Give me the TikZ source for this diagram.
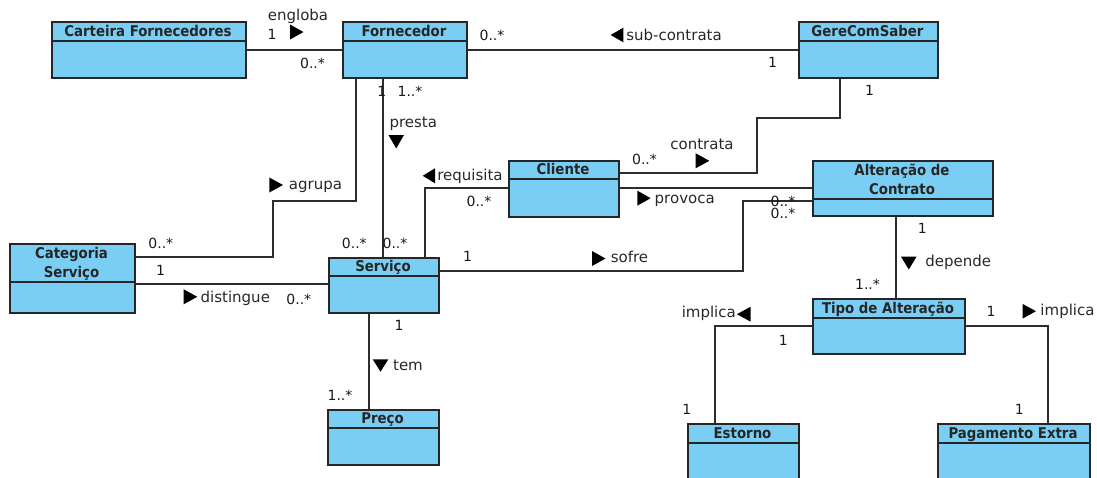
\documentclass[tikz,border=0pt]{standalone}
\usepackage{fontspec}
\setmainfont{DejaVu Sans}
\newfontfamily\titlefont{DejaVu Sans Condensed}
\definecolor{clsfill}{RGB}{122,206,244}
\definecolor{linec}{RGB}{45,45,45}
\definecolor{txtc}{RGB}{40,40,40}
\begin{document}
\begin{tikzpicture}[x=1pt,y=-1pt,
  cls/.style={draw=black!85, line width=1.6pt, fill=clsfill, inner sep=0pt, anchor=north west},
  div/.style={draw=black!85, line width=1.3pt},
  ttl/.style={font=\titlefont\bfseries\fontsize{14.8}{19.3}\selectfont, inner sep=0pt, align=center, text=black!85},
  assoc/.style={draw=linec, line width=1.5pt},
  role/.style={font=\fontsize{15}{18}\selectfont, inner sep=0pt, anchor=base, text=txtc},
  mult/.style={font=\fontsize{14}{17}\selectfont, inner sep=0pt, anchor=base, text=black!90},
  tri/.style={fill=black}
]
\useasboundingbox (0,0) rectangle (1097,477);
\clip (0,0) rectangle (1097,477);

% classes
\node[cls, minimum width=194pt, minimum height=56pt] (cart) at (51,21) {};
\draw[div] (cart.west |- 0,41) -- (cart.east |- 0,41);
\node[ttl, anchor=base] (cart-t) at (148,36) {Carteira Fornecedores};

\node[cls, minimum width=124pt, minimum height=56pt] (forn) at (342,21) {};
\draw[div] (forn.west |- 0,41) -- (forn.east |- 0,41);
\node[ttl, anchor=base] (forn-t) at (404,36) {Fornecedor};

\node[cls, minimum width=139pt, minimum height=56pt] (gere) at (798,21) {};
\draw[div] (gere.west |- 0,41) -- (gere.east |- 0,41);
\node[ttl, anchor=base] (gere-t) at (867.5,36) {GereComSaber};

\node[cls, minimum width=125pt, minimum height=69pt] (cat) at (9,243) {};
\draw[div] (cat.west |- 0,282) -- (cat.east |- 0,282);
\node[ttl, anchor=center] (cat-t) at (71.5,263.7) {Categoria\\Serviço};

\node[cls, minimum width=110pt, minimum height=55pt] (serv) at (328,257) {};
\draw[div] (serv.west |- 0,276) -- (serv.east |- 0,276);
\node[ttl, anchor=base] (serv-t) at (383,271.5) {Serviço};

\node[cls, minimum width=110pt, minimum height=56pt] (cli) at (508,160) {};
\draw[div] (cli.west |- 0,179) -- (cli.east |- 0,179);
\node[ttl, anchor=base] (cli-t) at (563,174.5) {Cliente};

\node[cls, minimum width=180pt, minimum height=55pt] (alt) at (812,160) {};
\draw[div] (alt.west |- 0,199) -- (alt.east |- 0,199);
\node[ttl, anchor=center] (alt-t) at (902,179) {Alteração de\\Contrato};

\node[cls, minimum width=152pt, minimum height=55pt] (tipo) at (812,298) {};
\draw[div] (tipo.west |- 0,318) -- (tipo.east |- 0,318);
\node[ttl, anchor=base] (tipo-t) at (888,313) {Tipo de Alteração};

\node[cls, minimum width=111pt, minimum height=55pt] (preco) at (327,409) {};
\draw[div] (preco.west |- 0,428) -- (preco.east |- 0,428);
\node[ttl, anchor=base] (preco-t) at (382.5,423.5) {Preço};

\node[cls, minimum width=111pt, minimum height=67pt] (est) at (687,423) {};
\draw[div] (est.west |- 0,443) -- (est.east |- 0,443);
\node[ttl, anchor=base] (est-t) at (742.5,438) {Estorno};

\node[cls, minimum width=152pt, minimum height=67pt] (pag) at (937,423) {};
\draw[div] (pag.west |- 0,443) -- (pag.east |- 0,443);
\node[ttl, anchor=base] (pag-t) at (1013,438) {Pagamento Extra};

% associations
\draw[assoc] (cart.east) -- (forn.west);
\draw[assoc] (forn.east) -- (gere.west);
\draw[assoc] (forn.south -| 356,0) |- (273,201) |- (cat.east |- 0,257);
\draw[assoc] (forn.south -| 383,0) -- (serv.north -| 383,0);
\draw[assoc] (serv.north -| 425,0) |- (cli.west |- 0,188);
\draw[assoc] (gere.south -| 840,0) |- (757,118) |- (cli.east |- 0,173);
\draw[assoc] (cli.east |- 0,188) -- (alt.west |- 0,188);
\draw[assoc] (serv.east |- 0,271) -| (743,201) -- (alt.west |- 0,201);
\draw[assoc] (cat.east |- 0,284) -- (serv.west |- 0,284);
\draw[assoc] (serv.south -| 369,0) -- (preco.north -| 369,0);
\draw[assoc] (alt.south -| 896,0) -- (tipo.north -| 896,0);
\draw[assoc] (tipo.west |- 0,326) -| (est.north -| 715,0);
\draw[assoc] (tipo.east |- 0,326) -| (pag.north -| 1048,0);

% direction triangles
\fill[tri] (290,24.5) -- (290,39.5) -- (303.5,32) -- cycle;
\fill[tri] (623.3,27.7) -- (623.3,42.3) -- (610.7,35) -- cycle;
\fill[tri] (388.5,135) -- (404,135) -- (396.2,148.5) -- cycle;
\fill[tri] (269.3,177.5) -- (269.3,192.5) -- (283,185) -- cycle;
\fill[tri] (183.7,289.3) -- (183.7,304.3) -- (197.3,296.8) -- cycle;
\fill[tri] (435,168.3) -- (435,183.3) -- (422.7,175.8) -- cycle;
\fill[tri] (695.7,153.3) -- (695.7,168.3) -- (709.3,160.8) -- cycle;
\fill[tri] (637.3,190.7) -- (637.3,205.7) -- (650.7,198.2) -- cycle;
\fill[tri] (592,251) -- (592,266) -- (605.5,258.5) -- cycle;
\fill[tri] (901,256.7) -- (916.5,256.7) -- (908.8,269.5) -- cycle;
\fill[tri] (750.7,306.7) -- (750.7,321.7) -- (736.9,314.2) -- cycle;
\fill[tri] (1022.7,304) -- (1022.7,318.5) -- (1036,311.2) -- cycle;
\fill[tri] (372.7,359.3) -- (388.3,359.3) -- (380.5,371.7) -- cycle;

% role names
\node[role] (l-engloba) at (298,20.5) {engloba};
\node[role] (l-sub) at (674,40.5) {sub-contrata};
\node[role] (l-presta) at (413.3,127) {presta};
\node[role] (l-agrupa) at (315.5,189.3) {agrupa};
\node[role] (l-dist) at (235.3,302.7) {distingue};
\node[role] (l-req) at (470,180) {requisita};
\node[role] (l-contrata) at (702,149.3) {contrata};
\node[role] (l-provoca) at (684.7,203.3) {provoca};
\node[role] (l-sofre) at (629.5,262.7) {sofre};
\node[role] (l-depende) at (958.3,266.7) {depende};
\node[role] (l-implL) at (708.8,317.7) {implica};
\node[role] (l-implR) at (1067.5,315) {implica};
\node[role] (l-tem) at (408,370) {tem};

% multiplicities
\node[mult] (m1) at (272,39.3) {1};
\node[mult] (m2) at (312.5,68.3) {0..*};
\node[mult] (m3) at (492,40) {0..*};
\node[mult] (m4) at (772.5,67.3) {1};
\node[mult] (m5) at (869.5,95.7) {1};
\node[mult] (m6) at (381.7,96) {1};
\node[mult] (m7) at (410,96) {1..*};
\node[mult] (m8) at (160.8,248.3) {0..*};
\node[mult] (m9) at (160.5,275.7) {1};
\node[mult] (m10) at (298.8,304) {0..*};
\node[mult] (m11) at (354.3,248.3) {0..*};
\node[mult] (m12) at (395,248.3) {0..*};
\node[mult] (m13) at (479,206) {0..*};
\node[mult] (m14) at (644.5,164.3) {0..*};
\node[mult] (m15) at (783,206.5) {0..*};
\node[mult] (m16) at (783,218.5) {0..*};
\node[mult] (m17) at (467.5,261.7) {1};
\node[mult] (m18) at (922.3,233.3) {1};
\node[mult] (m19) at (867.5,289) {1..*};
\node[mult] (m20) at (783.3,345) {1};
\node[mult] (m21) at (686.7,414) {1};
\node[mult] (m22) at (991,316.7) {1};
\node[mult] (m23) at (1019.3,414) {1};
\node[mult] (m24) at (399,330.7) {1};
\node[mult] (m25) at (340,400) {1..*};
\end{tikzpicture}
\end{document}
